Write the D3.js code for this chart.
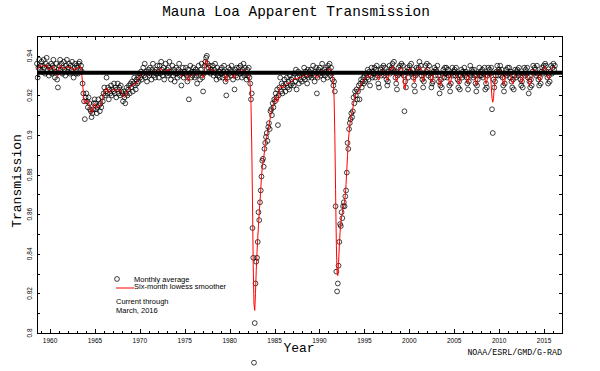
<!DOCTYPE html>
<html>
<head>
<meta charset="utf-8">
<script src="https://cdn.jsdelivr.net/npm/d3@7"></script>
<style>
  body { margin: 0; background: #fff; }
  #d3chart { width: 600px; height: 371px; }
</style>
</head>
<body>
<div id="d3chart"></div>
<script>
// Monthly average apparent transmission, x1000. Record starts July 1958.
const startYear = 1958
const startMonth = 7

const trans1950s = [
  936, 929, 934, 938, 933, 935,
  937, 932, 935, 938, 934, 931, 936, 939, 933, 935, 930, 934
]
const trans1960s = [
  933, 936, 931, 935, 938, 934, 929, 932, 936, 928, 924, 933,
  935, 938, 933, 936, 931, 934, 937, 933, 930, 935, 938, 932,
  934, 936, 931, 935, 933, 937, 932, 929, 934, 936, 931, 935,
  934, 931, 936, 937, 933, 935, 932, 926, 921, 917, 908, 919,
  921, 917, 914, 919, 916, 913, 912, 909, 911, 913, 916, 918,
  916, 913, 911, 914, 918, 915, 912, 916, 914, 919, 917, 921,
  924, 920, 922, 929, 921, 924, 918, 923, 921, 925, 920, 923,
  922, 926, 921, 924, 919, 923, 926, 921, 924, 920, 925, 922,
  921, 917, 922, 919, 916, 921, 924, 920, 923, 925, 921, 926,
  924, 927, 922, 926, 929, 925, 923, 928, 926, 929, 927, 931
]
const trans1970s = [
  929, 932, 928, 931, 934, 930, 936, 929, 932, 927, 931, 933,
  930, 934, 931, 928, 933, 936, 930, 932, 929, 933, 931, 935,
  932, 929, 935, 931, 937, 933, 930, 934, 928, 932, 936, 931,
  933, 930, 934, 937, 931, 928, 932, 935, 930, 933, 927, 931,
  934, 931, 929, 933, 936, 930, 932, 925, 931, 934, 929, 932,
  931, 934, 930, 927, 933, 918, 931, 935, 929, 932, 930, 934,
  932, 929, 933, 930, 926, 932, 935, 931, 928, 933, 936, 929,
  922, 931, 935, 937, 939, 940, 936, 934, 932, 935, 931, 933,
  932, 935, 930, 933, 936, 931, 928, 934, 930, 932, 929, 933,
  931, 934, 929, 932, 935, 930, 927, 920, 932, 929, 934, 931
]
const trans1980s = [
  933, 930, 935, 932, 928, 931, 923, 933, 930, 934, 929, 932,
  934, 931, 935, 932, 929, 933, 936, 930, 934, 931, 928, 933,
  930, 934, 929, 926, 918, 921, 853, 838, 785, 805, 825, 836,
  838, 846, 861, 857, 866, 872, 879, 887, 888, 884, 893, 896,
  899, 901, 897, 904, 906, 903, 912, 913, 910, 916, 914, 918,
  917, 921, 919, 923, 905, 920, 924, 929, 922, 926, 921, 925,
  924, 928, 922, 926, 929, 924, 927, 923, 930, 925, 928, 926,
  929, 925, 931, 927, 933, 923, 929, 932, 926, 930, 928, 931,
  927, 931, 929, 934, 928, 932, 930, 926, 933, 929, 932, 930,
  933, 929, 931, 935, 930, 927, 932, 934, 921, 929, 933, 931
]
const trans1990s = [
  934, 930, 932, 936, 931, 928, 933, 930, 934, 932, 929, 935,
  933, 936, 930, 934, 931, 928, 925, 927, 922, 864, 831, 821,
  825, 834, 846, 855, 854, 861, 858, 864, 866, 864, 869, 872,
  881, 896, 893, 903, 906, 908, 911, 909, 912, 919, 916, 922,
  920, 923, 918, 922, 925, 918, 926, 928, 924, 927, 929, 926,
  930, 927, 931, 929, 933, 928, 932, 925, 930, 934, 929, 932,
  931, 934, 929, 933, 935, 930, 926, 924, 931, 933, 930, 934,
  932, 935, 930, 934, 931, 928, 925, 927, 932, 935, 931, 933,
  934, 936, 933, 937, 932, 929, 926, 923, 930, 934, 931, 935,
  933, 936, 931, 935, 930, 912, 927, 924, 932, 934, 929, 933
]
const trans2000s = [
  935, 932, 936, 931, 933, 929, 925, 922, 930, 934, 931, 933,
  934, 937, 932, 935, 930, 928, 924, 927, 931, 935, 932, 936,
  933, 930, 935, 931, 929, 924, 926, 927, 932, 934, 930, 933,
  932, 935, 930, 927, 921, 925, 928, 924, 931, 933, 929, 934,
  931, 934, 929, 933, 930, 925, 922, 926, 931, 934, 930, 932,
  933, 930, 934, 931, 928, 924, 927, 923, 930, 933, 929, 932,
  931, 934, 930, 932, 929, 926, 923, 927, 931, 935, 930, 933,
  932, 929, 933, 930, 926, 922, 925, 928, 931, 934, 930, 932,
  930, 933, 929, 931, 934, 923, 926, 924, 930, 934, 931, 933,
  931, 934, 913, 901, 928, 924, 927, 930, 932, 935, 930, 933
]
const trans2010s = [
  932, 935, 930, 933, 929, 925, 922, 926, 931, 933, 930, 934,
  931, 934, 929, 932, 927, 924, 928, 923, 930, 933, 929, 932,
  933, 930, 934, 931, 928, 925, 927, 924, 931, 934, 930, 933,
  931, 934, 929, 921, 927, 924, 928, 925, 932, 935, 931, 934,
  933, 930, 935, 931, 928, 925, 929, 926, 932, 934, 931, 935,
  933, 936, 935, 932, 929, 926, 930, 927, 932, 935, 931, 934,
  936, 933, 935
]

// Clear-sky reference level (thick black line)
const referenceLevel = 0.9315

// Axis ticks and labels
const xLabelYears = [1960, 1965, 1970, 1975, 1980, 1985, 1990, 1995, 2000, 2005, 2010, 2015]
const yLabelValues = [0.8, 0.82, 0.84, 0.86, 0.88, 0.9, 0.92, 0.94]

const titleText = 'Mauna Loa Apparent Transmission'
const legendLabels = ['Monthly average', 'Six-month lowess smoother']
const noteLines = ['Current through', 'March, 2016']
const creditText = 'NOAA/ESRL/GMD/G-RAD'

class D3Chart {
  constructor () {
    this.monthly = this.cleanData()
    this.smooth = this.lowess(this.monthly, 6)
    this.drawChart()
  }

  // Turn the decade arrays into {t: decimal year, v: transmission}.
  cleanData () {
    const all = [].concat(trans1950s, trans1960s, trans1970s, trans1980s,
      trans1990s, trans2000s, trans2010s)
    return all.map((d, i) => {
      const m = startMonth - 1 + i
      return { t: startYear + Math.floor(m / 12) + ((m % 12) + 0.5) / 12, v: d / 1000 }
    })
  }

  // Local linear lowess using the q nearest months, tricube weights.
  lowess (pts, q) {
    return pts.map((p, i) => {
      const win = pts.slice(Math.max(0, i - q), Math.min(pts.length, i + q + 1))
      const dists = win.map(o => Math.abs(o.t - p.t)).sort((a, b) => a - b)
      const h = dists[Math.min(q, dists.length) - 1] * 1.0001
      let sw = 0; let sx = 0; let sy = 0; let sxx = 0; let sxy = 0
      win.forEach(o => {
        const u = Math.abs(o.t - p.t) / h
        if (u >= 1) return
        const w = Math.pow(1 - u * u * u, 3)
        const dx = o.t - p.t
        sw += w; sx += w * dx; sy += w * o.v; sxx += w * dx * dx; sxy += w * dx * o.v
      })
      const den = sw * sxx - sx * sx
      let s = sy / sw
      if (Math.abs(den) > 1e-12) {
        const b = (sw * sxy - sx * sy) / den
        s = (sy - b * sx) / sw
      }
      return { t: p.t, s: s }
    })
  }

  drawChart () {
    this.chartWidth = 600
    this.chartHeight = 371
    this.plot = { left: 37, right: 562, top: 36, bottom: 333 }

    this.svg = d3.select('#d3chart')
      .append('svg')
      .attr('width', this.chartWidth)
      .attr('height', this.chartHeight)
      .style('background', '#fff')

    this.createScales()
    this.addAxes()
    this.addDataVisuals()
    this.addTitles()
    this.addLegend()
  }

  createScales () {
    this.x = d3.scaleLinear().domain([1958.55, 2017.0]).range([this.plot.left, this.plot.right])
    this.y = d3.scaleLinear().domain([0.8, 0.95]).range([this.plot.bottom, this.plot.top])
  }

  addAxes () {
    const p = this.plot
    const years = d3.range(1959, 2017)
    const yTicks = d3.range(0, 16).map(i => +(0.8 + i * 0.01).toFixed(2))

    const g = this.svg.append('g').attr('class', 'axes')

    const style = sel => {
      sel.selectAll('path, line').attr('stroke', '#000').attr('stroke-width', 1)
        .attr('shape-rendering', 'crispEdges')
      sel.selectAll('text').remove()
    }

    // bottom: minor + major
    g.append('g').attr('transform', `translate(0,${p.bottom})`)
      .call(d3.axisBottom(this.x).tickValues(years).tickSize(-2).tickSizeOuter(0))
      .call(style)
    g.append('g').attr('transform', `translate(0,${p.bottom})`)
      .call(d3.axisBottom(this.x).tickValues(xLabelYears).tickSize(-4).tickSizeOuter(0))
      .call(style)
    // top
    g.append('g').attr('transform', `translate(0,${p.top})`)
      .call(d3.axisTop(this.x).tickValues(years).tickSize(-2).tickSizeOuter(0))
      .call(style)
    g.append('g').attr('transform', `translate(0,${p.top})`)
      .call(d3.axisTop(this.x).tickValues(xLabelYears).tickSize(-4).tickSizeOuter(0))
      .call(style)
    // left / right
    g.append('g').attr('transform', `translate(${p.left},0)`)
      .call(d3.axisLeft(this.y).tickValues(yTicks).tickSize(-3).tickSizeOuter(0))
      .call(style)
    g.append('g').attr('transform', `translate(${p.right},0)`)
      .call(d3.axisRight(this.y).tickValues(yTicks).tickSize(-3).tickSizeOuter(0))
      .call(style)

    // tick labels
    g.selectAll('text.xlab').data(xLabelYears).join('text')
      .attr('class', 'xlab')
      .attr('x', d => this.x(d))
      .attr('y', p.bottom + 10)
      .attr('text-anchor', 'middle')
      .style('font', '6.5px "Liberation Sans", Arial, sans-serif')
      .text(d => d)

    g.selectAll('text.ylab').data(yLabelValues).join('text')
      .attr('class', 'ylab')
      .attr('transform', d => `translate(${p.left - 5},${this.y(d)}) rotate(-90)`)
      .attr('text-anchor', 'middle')
      .style('font', '6.5px "Liberation Sans", Arial, sans-serif')
      .text(d => String(+d.toFixed(2)))
  }

  addDataVisuals () {
    const data = this.svg.append('g').attr('class', 'data')

    data.selectAll('circle').data(this.monthly).join('circle')
      .attr('cx', d => this.x(d.t))
      .attr('cy', d => this.y(d.v))
      .attr('r', 2.4)
      .attr('fill', 'none')
      .attr('stroke', '#000')
      .attr('stroke-width', 0.75)

    const line = d3.line().x(d => this.x(d.t)).y(d => this.y(Math.max(d.s, 0.8)))
    data.append('path')
      .datum(this.smooth)
      .attr('d', line)
      .attr('fill', 'none')
      .attr('stroke', '#ff0000')
      .attr('stroke-width', 1)

    data.append('line')
      .attr('x1', this.plot.left).attr('x2', this.plot.right)
      .attr('y1', this.y(referenceLevel)).attr('y2', this.y(referenceLevel))
      .attr('stroke', '#000')
      .attr('stroke-width', 4)
  }

  addTitles () {
    const mono = '"Liberation Mono", "Courier New", monospace'
    this.svg.append('text')
      .attr('x', 296).attr('y', 16)
      .attr('text-anchor', 'middle')
      .style('font', `14.4px ${mono}`)
      .text(titleText)

    this.svg.append('text')
      .attr('transform', 'translate(21,181) rotate(-90)')
      .attr('text-anchor', 'middle')
      .style('font', `13px ${mono}`)
      .text('Transmission')

    this.svg.append('text')
      .attr('x', 299).attr('y', 352)
      .attr('text-anchor', 'middle')
      .style('font', `13px ${mono}`)
      .text('Year')

    this.svg.append('text')
      .attr('x', this.plot.right).attr('y', 355)
      .attr('text-anchor', 'end')
      .style('font', `8.3px ${mono}`)
      .text(creditText)
  }

  addLegend () {
    const sans = '7.5px "Liberation Sans", Arial, sans-serif'
    const lg = this.svg.append('g').attr('class', 'legend')

    lg.append('circle')
      .attr('cx', 117).attr('cy', 279).attr('r', 2.4)
      .attr('fill', 'none').attr('stroke', '#000').attr('stroke-width', 0.75)
    lg.append('line')
      .attr('x1', 116).attr('x2', 134).attr('y1', 288).attr('y2', 288)
      .attr('stroke', '#ff0000').attr('stroke-width', 1)

    lg.selectAll('text.lab').data(legendLabels).join('text')
      .attr('class', 'lab')
      .attr('x', 134)
      .attr('y', (d, i) => 281.5 + i * 7.5)
      .style('font', sans)
      .text(d => d)

    lg.selectAll('text.note').data(noteLines).join('text')
      .attr('class', 'note')
      .attr('x', 116)
      .attr('y', (d, i) => 304 + i * 8.5)
      .style('font', sans)
      .text(d => d)
  }
}

new D3Chart()
</script>
</body>
</html>
